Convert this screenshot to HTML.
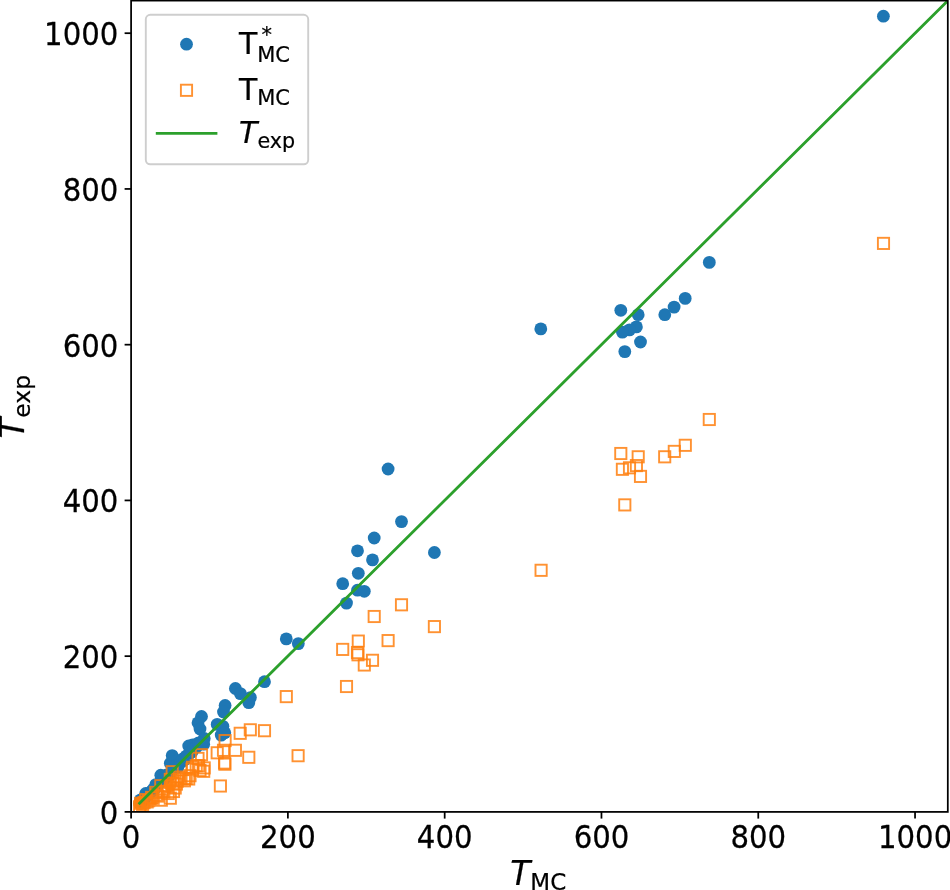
<!DOCTYPE html>
<html><head><meta charset="utf-8"><title>T_exp vs T_MC</title>
<style>
html,body{margin:0;padding:0;background:#fff;}
body{width:950px;height:890px;overflow:hidden;}
svg{display:block;}
text{font-family:"DejaVu Sans","Liberation Sans",sans-serif;fill:#000;stroke:#000;stroke-width:0.22px;}
.tk{font-size:29.2px;stroke:#000;stroke-width:0.25px;}
.it{font-style:italic;}
</style></head><body>
<svg width="950" height="890" viewBox="0 0 950 890">
<rect width="950" height="890" fill="#fff"/>
<defs><clipPath id="ax"><rect x="131.10" y="0.60" width="816.70" height="811.30"/></clipPath></defs>

<g clip-path="url(#ax)">
<g fill="#1f77b4"><circle cx="883.4" cy="16.2" r="6.4"/><circle cx="709.3" cy="262.4" r="6.4"/><circle cx="685.2" cy="298.4" r="6.4"/><circle cx="674.1" cy="307.1" r="6.4"/><circle cx="664.8" cy="314.7" r="6.4"/><circle cx="620.8" cy="310.3" r="6.4"/><circle cx="638.2" cy="314.7" r="6.4"/><circle cx="636.4" cy="326.9" r="6.4"/><circle cx="629.5" cy="329.9" r="6.4"/><circle cx="622.4" cy="332.1" r="6.4"/><circle cx="640.5" cy="342.0" r="6.4"/><circle cx="624.8" cy="351.6" r="6.4"/><circle cx="540.8" cy="328.9" r="6.4"/><circle cx="388.1" cy="469.0" r="6.4"/><circle cx="401.5" cy="521.6" r="6.4"/><circle cx="434.4" cy="552.5" r="6.4"/><circle cx="374.2" cy="538.0" r="6.4"/><circle cx="357.5" cy="550.8" r="6.4"/><circle cx="372.5" cy="559.9" r="6.4"/><circle cx="358.3" cy="573.3" r="6.4"/><circle cx="342.7" cy="583.7" r="6.4"/><circle cx="357.5" cy="590.2" r="6.4"/><circle cx="364.3" cy="591.3" r="6.4"/><circle cx="346.5" cy="603.1" r="6.4"/><circle cx="286.3" cy="638.9" r="6.4"/><circle cx="298.3" cy="643.6" r="6.4"/><circle cx="264.5" cy="681.7" r="6.4"/><circle cx="235.4" cy="688.5" r="6.4"/><circle cx="240.4" cy="693.6" r="6.4"/><circle cx="250.4" cy="697.6" r="6.4"/><circle cx="248.8" cy="702.7" r="6.4"/><circle cx="225.1" cy="705.5" r="6.4"/><circle cx="223.5" cy="712.0" r="6.4"/><circle cx="201.5" cy="716.5" r="6.4"/><circle cx="198.0" cy="722.8" r="6.4"/><circle cx="217.2" cy="724.4" r="6.4"/><circle cx="200.0" cy="729.0" r="6.4"/><circle cx="222.9" cy="726.3" r="6.4"/><circle cx="224.8" cy="732.8" r="6.4"/><circle cx="221.2" cy="735.1" r="6.4"/><circle cx="204.2" cy="738.5" r="6.4"/><circle cx="203.7" cy="744.2" r="6.4"/><circle cx="192.5" cy="745.0" r="6.4"/><circle cx="188.7" cy="746.0" r="6.4"/><circle cx="172.2" cy="755.6" r="6.4"/><circle cx="170.3" cy="763.2" r="6.4"/><circle cx="177.3" cy="760.6" r="6.4"/><circle cx="160.8" cy="775.2" r="6.4"/><circle cx="155.8" cy="784.6" r="6.4"/><circle cx="145.7" cy="793.5" r="6.4"/><circle cx="140.6" cy="799.8" r="6.4"/><circle cx="139.6" cy="803.5" r="6.4"/><circle cx="141.2" cy="801.6" r="6.4"/><circle cx="142.6" cy="800.7" r="6.4"/><circle cx="144.0" cy="798.8" r="6.4"/><circle cx="145.6" cy="797.5" r="6.4"/><circle cx="147.2" cy="795.3" r="6.4"/><circle cx="148.6" cy="795.0" r="6.4"/><circle cx="150.2" cy="792.5" r="6.4"/><circle cx="151.6" cy="791.5" r="6.4"/><circle cx="153.2" cy="789.3" r="6.4"/><circle cx="154.6" cy="789.0" r="6.4"/><circle cx="156.2" cy="786.5" r="6.4"/><circle cx="157.6" cy="785.6" r="6.4"/><circle cx="160.6" cy="781.7" r="6.4"/><circle cx="162.2" cy="781.0" r="6.4"/><circle cx="163.8" cy="778.8" r="6.4"/><circle cx="165.2" cy="778.4" r="6.4"/><circle cx="166.8" cy="775.0" r="6.4"/><circle cx="168.2" cy="775.0" r="6.4"/><circle cx="169.8" cy="774.6" r="6.4"/><circle cx="173.0" cy="769.4" r="6.4"/><circle cx="176.4" cy="765.6" r="6.4"/><circle cx="177.8" cy="767.4" r="6.4"/><circle cx="179.4" cy="763.0" r="6.4"/><circle cx="181.0" cy="762.3" r="6.4"/><circle cx="182.8" cy="759.0" r="6.4"/><circle cx="184.4" cy="760.0" r="6.4"/><circle cx="186.2" cy="756.1" r="6.4"/><circle cx="188.0" cy="755.4" r="6.4"/><circle cx="190.0" cy="751.6" r="6.4"/><circle cx="192.0" cy="752.0" r="6.4"/><circle cx="194.0" cy="748.2" r="6.4"/><circle cx="196.2" cy="747.2" r="6.4"/><circle cx="198.6" cy="742.8" r="6.4"/><circle cx="201.0" cy="743.2" r="6.4"/></g>
<g fill="none" stroke="#ff7f0e" stroke-opacity="0.85" stroke-width="1.9"><rect x="877.9" y="237.8" width="11.2" height="11.2"/><rect x="703.7" y="413.9" width="11.2" height="11.2"/><rect x="679.7" y="439.7" width="11.2" height="11.2"/><rect x="668.7" y="445.8" width="11.2" height="11.2"/><rect x="659.1" y="451.2" width="11.2" height="11.2"/><rect x="615.2" y="447.9" width="11.2" height="11.2"/><rect x="632.6" y="451.2" width="11.2" height="11.2"/><rect x="630.8" y="460.0" width="11.2" height="11.2"/><rect x="623.9" y="462.2" width="11.2" height="11.2"/><rect x="616.8" y="463.7" width="11.2" height="11.2"/><rect x="634.9" y="470.8" width="11.2" height="11.2"/><rect x="619.2" y="499.3" width="11.2" height="11.2"/><rect x="535.5" y="564.7" width="11.2" height="11.2"/><rect x="395.9" y="599.2" width="11.2" height="11.2"/><rect x="368.6" y="610.9" width="11.2" height="11.2"/><rect x="428.8" y="621.0" width="11.2" height="11.2"/><rect x="382.5" y="635.0" width="11.2" height="11.2"/><rect x="352.7" y="635.5" width="11.2" height="11.2"/><rect x="337.1" y="643.8" width="11.2" height="11.2"/><rect x="351.9" y="647.0" width="11.2" height="11.2"/><rect x="352.4" y="649.2" width="11.2" height="11.2"/><rect x="366.9" y="654.7" width="11.2" height="11.2"/><rect x="358.7" y="659.4" width="11.2" height="11.2"/><rect x="340.9" y="680.9" width="11.2" height="11.2"/><rect x="280.7" y="691.0" width="11.2" height="11.2"/><rect x="258.9" y="725.1" width="11.2" height="11.2"/><rect x="244.7" y="724.2" width="11.2" height="11.2"/><rect x="234.6" y="727.7" width="11.2" height="11.2"/><rect x="229.8" y="744.7" width="11.2" height="11.2"/><rect x="243.2" y="751.7" width="11.2" height="11.2"/><rect x="292.5" y="750.1" width="11.2" height="11.2"/><rect x="219.5" y="735.0" width="11.2" height="11.2"/><rect x="217.9" y="744.7" width="11.2" height="11.2"/><rect x="211.6" y="747.2" width="11.2" height="11.2"/><rect x="219.0" y="757.4" width="11.2" height="11.2"/><rect x="219.3" y="758.6" width="11.2" height="11.2"/><rect x="214.8" y="780.4" width="11.2" height="11.2"/><rect x="195.9" y="749.1" width="11.2" height="11.2"/><rect x="192.4" y="752.8" width="11.2" height="11.2"/><rect x="194.4" y="764.9" width="11.2" height="11.2"/><rect x="198.6" y="762.3" width="11.2" height="11.2"/><rect x="198.1" y="765.7" width="11.2" height="11.2"/><rect x="186.9" y="761.7" width="11.2" height="11.2"/><rect x="183.1" y="773.4" width="11.2" height="11.2"/><rect x="166.6" y="766.1" width="11.2" height="11.2"/><rect x="164.7" y="773.8" width="11.2" height="11.2"/><rect x="171.7" y="775.5" width="11.2" height="11.2"/><rect x="155.2" y="780.1" width="11.2" height="11.2"/><rect x="150.2" y="786.8" width="11.2" height="11.2"/><rect x="140.1" y="794.0" width="11.2" height="11.2"/><rect x="135.0" y="797.7" width="11.2" height="11.2"/><rect x="169.6" y="782.4" width="11.2" height="11.2"/><rect x="167.9" y="785.9" width="11.2" height="11.2"/><rect x="164.7" y="792.6" width="11.2" height="11.2"/><rect x="155.7" y="794.6" width="11.2" height="11.2"/><rect x="134.0" y="801.2" width="11.2" height="11.2"/><rect x="137.0" y="798.8" width="11.2" height="11.2"/><rect x="138.4" y="797.0" width="11.2" height="11.2"/><rect x="141.6" y="796.3" width="11.2" height="11.2"/><rect x="143.0" y="795.1" width="11.2" height="11.2"/><rect x="146.0" y="791.8" width="11.2" height="11.2"/><rect x="147.6" y="792.7" width="11.2" height="11.2"/><rect x="150.6" y="789.3" width="11.2" height="11.2"/><rect x="152.0" y="790.5" width="11.2" height="11.2"/><rect x="156.6" y="785.7" width="11.2" height="11.2"/><rect x="158.2" y="786.4" width="11.2" height="11.2"/><rect x="161.2" y="780.0" width="11.2" height="11.2"/><rect x="162.6" y="787.9" width="11.2" height="11.2"/><rect x="167.4" y="778.0" width="11.2" height="11.2"/><rect x="170.8" y="778.5" width="11.2" height="11.2"/><rect x="173.8" y="771.4" width="11.2" height="11.2"/><rect x="175.4" y="773.2" width="11.2" height="11.2"/><rect x="178.8" y="775.2" width="11.2" height="11.2"/><rect x="180.6" y="772.8" width="11.2" height="11.2"/><rect x="184.4" y="770.1" width="11.2" height="11.2"/><rect x="186.4" y="763.5" width="11.2" height="11.2"/><rect x="190.6" y="760.1" width="11.2" height="11.2"/><rect x="193.0" y="760.2" width="11.2" height="11.2"/></g>
<g fill="#ff7f0e" fill-opacity="0.8"><circle cx="170.1" cy="785.3" r="6.4"/><circle cx="139.7" cy="803.5" r="6.4"/></g>
<line x1="139.6" y1="803.3" x2="950.3" y2="-1.8" stroke="#2ca02c" stroke-width="2.8" stroke-linecap="square"/>
</g>
<rect x="131.10" y="0.60" width="816.70" height="811.30" fill="none" stroke="#000" stroke-width="1.75"/>
<g stroke="#000" stroke-width="1.75"><line x1="131.10" y1="811.90" x2="131.10" y2="818.60"/><line x1="131.10" y1="811.90" x2="124.60" y2="811.90"/><line x1="287.89" y1="811.90" x2="287.89" y2="818.60"/><line x1="131.10" y1="656.16" x2="124.60" y2="656.16"/><line x1="444.68" y1="811.90" x2="444.68" y2="818.60"/><line x1="131.10" y1="500.42" x2="124.60" y2="500.42"/><line x1="601.47" y1="811.90" x2="601.47" y2="818.60"/><line x1="131.10" y1="344.68" x2="124.60" y2="344.68"/><line x1="758.26" y1="811.90" x2="758.26" y2="818.60"/><line x1="131.10" y1="188.94" x2="124.60" y2="188.94"/><line x1="915.05" y1="811.90" x2="915.05" y2="818.60"/><line x1="131.10" y1="33.20" x2="124.60" y2="33.20"/></g>
<text class="tk" transform="translate(131.1,836.6) scale(1.0,1.085)" y="10.64" text-anchor="middle">0</text>
<text class="tk" transform="translate(118.4,812.4) scale(1.0,1.085)" y="10.64" text-anchor="end">0</text>
<text class="tk" transform="translate(287.9,836.6) scale(1.0,1.085)" y="10.64" text-anchor="middle">200</text>
<text class="tk" transform="translate(118.4,656.7) scale(1.0,1.085)" y="10.64" text-anchor="end">200</text>
<text class="tk" transform="translate(444.7,836.6) scale(1.0,1.085)" y="10.64" text-anchor="middle">400</text>
<text class="tk" transform="translate(118.4,500.9) scale(1.0,1.085)" y="10.64" text-anchor="end">400</text>
<text class="tk" transform="translate(601.5,836.6) scale(1.0,1.085)" y="10.64" text-anchor="middle">600</text>
<text class="tk" transform="translate(118.4,345.2) scale(1.0,1.085)" y="10.64" text-anchor="end">600</text>
<text class="tk" transform="translate(758.3,836.6) scale(1.0,1.085)" y="10.64" text-anchor="middle">800</text>
<text class="tk" transform="translate(118.4,189.4) scale(1.0,1.085)" y="10.64" text-anchor="end">800</text>
<text class="tk" transform="translate(915.1,836.6) scale(1.0,1.085)" y="10.64" text-anchor="middle">1000</text>
<text class="tk" transform="translate(118.4,33.7) scale(1.0,1.085)" y="10.64" text-anchor="end">1000</text>
<text x="510.3" y="884.6" font-size="32.8px"><tspan class="it">T</tspan><tspan font-size="23px" dy="5.5">MC</tspan></text>
<text transform="translate(24.0,438.4) rotate(-90)" font-size="33.9px"><tspan class="it">T</tspan><tspan font-size="23.5px" dy="6.1">exp</tspan></text>
<rect x="145.8" y="14.8" width="162.4" height="149.5" rx="4.5" fill="#fff" fill-opacity="0.8" stroke="#cecece" stroke-width="1.9"/>
<circle cx="186.5" cy="44.2" r="6.4" fill="#1f77b4"/>
<rect x="180.9" y="84.7" width="11.2" height="11.2" fill="none" stroke="#ff7f0e" stroke-opacity="0.85" stroke-width="1.9"/>
<line x1="155.8" y1="133.3" x2="217.4" y2="133.3" stroke="#2ca02c" stroke-width="2.8"/>
<text x="238.9" y="53.6" font-size="30px">T<tspan font-size="21px" dy="7.9">MC</tspan><tspan font-size="21px" dx="-28.6" dy="-19.1">*</tspan></text>
<text x="238.9" y="100.0" font-size="30px">T<tspan font-size="21px" dy="4.6">MC</tspan></text>
<text x="239.1" y="142.8" font-size="30px"><tspan class="it">T</tspan><tspan font-size="20.7px" dy="5.1">exp</tspan></text>
</svg></body></html>
